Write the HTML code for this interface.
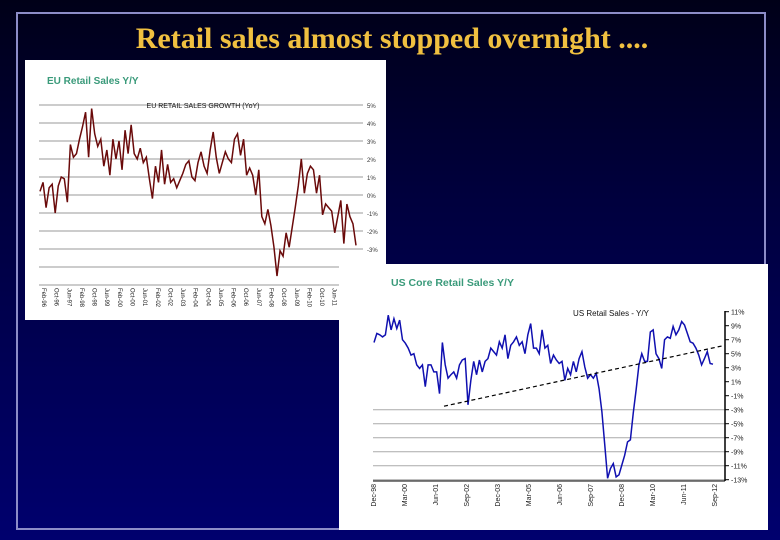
<!DOCTYPE html>
<html><head><meta charset="utf-8"><style>
body{margin:0;width:780px;height:540px;overflow:hidden;background:linear-gradient(#000018 0%,#00003c 35%,#00006e 100%);font-family:"Liberation Sans",sans-serif;position:relative}
#frame{position:absolute;left:16px;top:12px;width:750px;height:518px;border:2px solid #8c8cc8;box-sizing:border-box}
#title{position:absolute;left:0;width:784px;top:22px;text-align:center;font-family:"Liberation Serif",serif;font-size:30px;font-weight:bold;color:#f0c040}
svg{position:absolute;left:0;top:0}
</style></head><body>
<div id="frame"></div>
<div id="title">Retail sales almost stopped overnight ....</div>
<svg id="c" width="780" height="540"></svg>
<script>
const euValues=[0.2,0.7,-0.7,0.4,0.6,-1.0,0.5,1.0,0.9,-0.4,2.8,2.1,2.3,3.1,3.8,4.6,2.1,4.8,3.4,2.7,3.1,1.6,2.5,1.1,3.1,2.0,3.0,1.4,3.6,2.3,3.9,2.3,2.0,2.6,1.8,2.1,0.9,-0.2,1.6,0.7,2.5,0.6,1.7,0.7,0.9,0.4,0.8,1.2,1.7,1.9,1.0,0.8,1.8,2.4,1.6,1.2,2.5,3.5,2.1,1.2,1.8,2.4,2.0,1.8,3.1,3.4,2.2,3.1,1.1,1.5,1.1,0.0,1.4,-1.2,-1.6,-0.8,-1.7,-2.9,-4.5,-3.1,-3.4,-2.1,-2.9,-1.8,-0.7,0.5,2.0,0.1,1.2,1.6,1.4,0.1,1.1,-1.1,-0.5,-0.7,-0.9,-2.1,-1.2,-0.3,-2.7,-0.5,-1.2,-1.6,-2.8];
const euTicks=["5%","4%","3%","2%","1%","0%","-1%","-2%","-3%","-4%","-5%"];
const euCats=["Feb-96","Oct-96","Jun-97","Feb-98","Oct-98","Jun-99","Feb-00","Oct-00","Jun-01","Feb-02","Oct-02","Jun-03","Feb-04","Oct-04","Jun-05","Feb-06","Oct-06","Jun-07","Feb-08","Oct-08","Jun-09","Feb-10","Oct-10","Jun-11","Feb-12","Oct-12"];
const usValues=[6.6,7.9,7.7,7.4,7.7,10.5,8.4,10.0,8.6,9.8,7.0,6.5,5.8,4.8,5.0,3.4,2.9,3.4,0.3,3.4,3.4,2.4,2.4,-0.7,6.6,3.4,1.5,2.0,2.4,1.5,3.4,4.1,4.3,-2.3,1.2,3.9,2.0,4.1,2.4,3.9,4.3,5.8,5.3,4.8,6.7,5.8,7.7,4.3,6.2,6.7,7.4,6.2,6.7,5.0,7.7,9.3,5.8,5.8,5.0,8.4,5.8,6.2,3.6,4.8,4.1,3.6,3.9,1.2,2.9,2.0,3.9,2.4,4.3,5.3,3.1,1.5,2.0,1.5,2.2,0.0,-3.3,-8.0,-12.8,-11.4,-10.7,-12.6,-12.3,-10.9,-9.5,-7.6,-7.3,-3.5,-0.2,3.4,5.0,3.9,3.9,8.1,8.4,5.0,4.3,2.9,7.0,7.4,7.2,8.9,7.7,8.4,9.6,9.1,7.9,6.7,6.5,5.8,4.8,3.4,4.3,5.3,3.6,3.5];
const usTicks=["11%","9%","7%","5%","3%","1%","-1%","-3%","-5%","-7%","-9%","-11%","-13%"];
const usCats=["Dec-98","Mar-00","Jun-01","Sep-02","Dec-03","Mar-05","Jun-06","Sep-07","Dec-08","Mar-10","Jun-11","Sep-12"];
const usTrend=[-2.5,6.2];

const NS="http://www.w3.org/2000/svg",svg=document.getElementById('c');
function el(t,a,txt){const e=document.createElementNS(NS,t);for(const k in a)e.setAttribute(k,a[k]);if(txt!=null)e.textContent=txt;svg.appendChild(e);return e;}

// EU panel
let r=el('rect',{x:25,y:60,width:361,height:260,fill:'#fff'});

let t=el('text',{x:47,y:84,'font-size':10,'font-weight':'bold',fill:'#3a9a7a'},'EU Retail Sales Y/Y');

const euY=v=>195-v*18, euX=i=>40+i*(316/(euValues.length-1));
euTicks.forEach((s,i)=>{const v=5-i,y=euY(v);
 const g=el('line',{x1:39,x2:363,y1:y,y2:y,stroke:'#999','stroke-width':1});
 
 const l=el('text',{x:367,y:y+3,'font-size':6,fill:'#333'},s);
 });
t=el('text',{x:203,y:108,'font-size':7,'text-anchor':'middle',fill:'#111'},'EU RETAIL SALES GROWTH (YoY)');

let p=el('polyline',{points:euValues.map((v,i)=>euX(i)+','+euY(v)).join(' '),fill:'none',stroke:'#6a0a0a','stroke-width':1.5});

euCats.forEach((s,i)=>{const x=40+i*(316/(euCats.length-1));
 const l=el('text',{x:x+2,y:288,'font-size':6,fill:'#222',transform:`rotate(90 ${x+2} 288)`},s);
 });

// US panel
r=el('rect',{x:339,y:264,width:429,height:266,fill:'#fff'});

t=el('text',{x:391,y:286,'font-size':10.5,'font-weight':'bold',fill:'#3a9a7a'},'US Core Retail Sales Y/Y');

const usY=v=>311.7+(11-v)*7, usX=i=>374+i*(339/(usValues.length-1));
usTicks.forEach((s,i)=>{const v=11-2*i,y=usY(v);
 if(v<=-3){const g=el('line',{x1:373,x2:725,y1:y,y2:y,stroke:'#aaa','stroke-width':1});
 }
 const tk=el('line',{x1:725,x2:729,y1:y,y2:y,stroke:'#000'});
 
 const l=el('text',{x:731,y:y+3,'font-size':7,fill:'#222'},s);
 });
let ax=el('line',{x1:725,x2:725,y1:311,y2:481,stroke:'#000','stroke-width':1.5});

ax=el('line',{x1:373,x2:725,y1:481,y2:481,stroke:'#000','stroke-width':1});

t=el('text',{x:611,y:316,'font-size':8,'text-anchor':'middle',fill:'#111'},'US Retail Sales - Y/Y');

p=el('polyline',{points:usValues.map((v,i)=>usX(i)+','+usY(v)).join(' '),fill:'none',stroke:'#1010b0','stroke-width':1.5});

p=el('line',{x1:444,x2:725,y1:usY(usTrend[0]),y2:usY(usTrend[1]),stroke:'#000','stroke-width':1.2,'stroke-dasharray':'4,3'});

usCats.forEach((s,i)=>{const x=373+i*31;
 const l=el('text',{x:x+3,y:484,'font-size':7,fill:'#222','text-anchor':'end',transform:`rotate(-90 ${x+3} 484)`},s);
 });
</script>
</body></html>
